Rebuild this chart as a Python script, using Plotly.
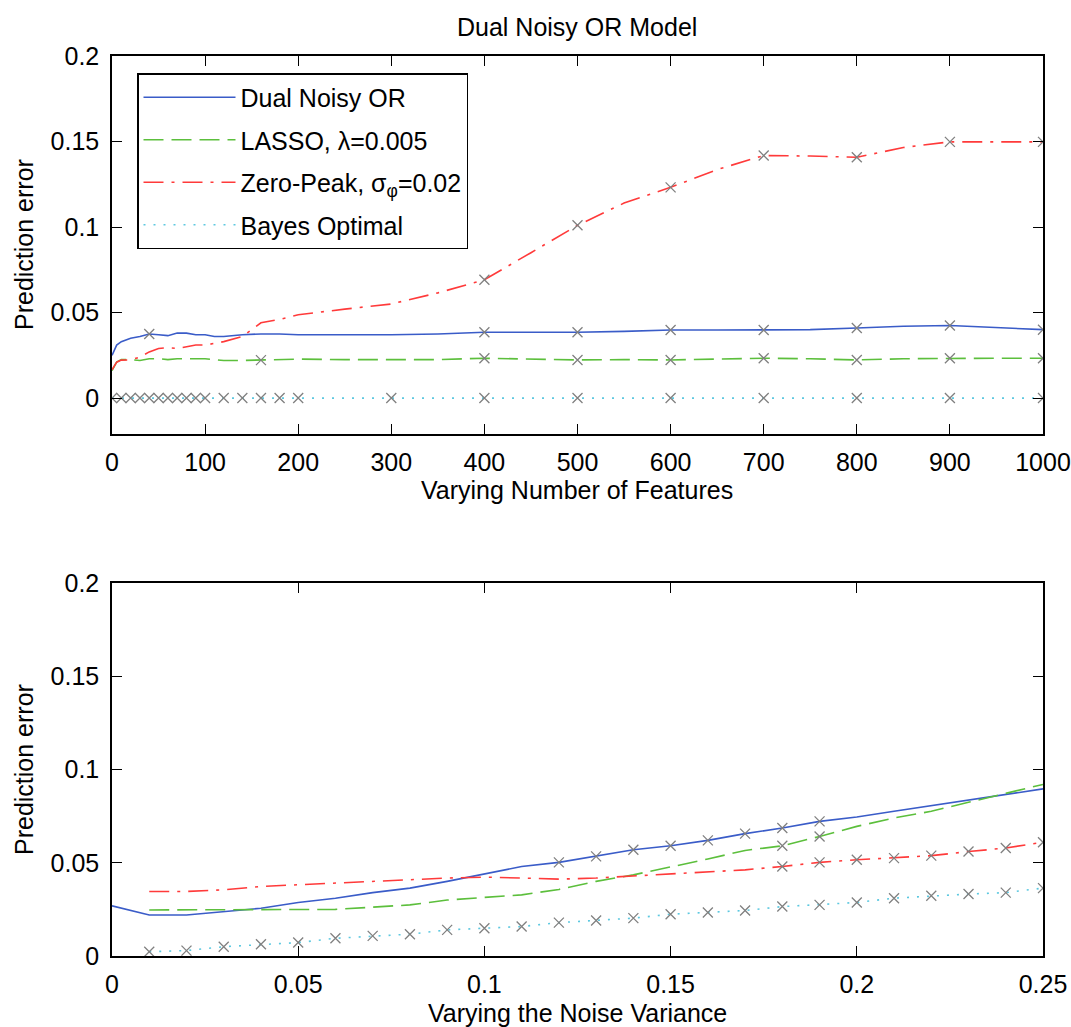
import plotly.graph_objects as go

# ---------------- data: top panel (varying number of features) ----------------
features = [0, 5, 10, 20, 30, 40, 50, 60, 70, 80, 90, 100, 110, 120, 140, 160, 180, 200,
            250, 300, 350, 400, 450, 500, 550, 600, 650, 700, 750, 800, 850, 900, 950, 1000]
dual_top = [0.025, 0.031, 0.033, 0.035, 0.036, 0.0375, 0.037, 0.0365, 0.038, 0.038, 0.037, 0.037,
            0.036, 0.036, 0.037, 0.0375, 0.0375, 0.037, 0.037, 0.037, 0.0375, 0.0385, 0.0385,
            0.0385, 0.039, 0.0398, 0.0398, 0.0398, 0.040, 0.041, 0.042, 0.0424, 0.041, 0.040]
lasso_top = [0.016, 0.021, 0.0225, 0.0225, 0.022, 0.023, 0.023, 0.0225, 0.023, 0.023, 0.023, 0.023,
             0.0225, 0.022, 0.022, 0.0222, 0.0225, 0.0228, 0.0225, 0.0225, 0.0225, 0.0233, 0.0228,
             0.0223, 0.0225, 0.0223, 0.0228, 0.0233, 0.023, 0.0223, 0.023, 0.0233, 0.0233, 0.0233]
zero_top = [0.0165, 0.021, 0.0222, 0.0223, 0.024, 0.027, 0.029, 0.0295, 0.029, 0.030, 0.031, 0.031,
            0.032, 0.033, 0.036, 0.044, 0.046, 0.0487, 0.052, 0.055, 0.0615, 0.0692, 0.085, 0.101,
            0.114, 0.1232, 0.1336, 0.1418, 0.1415, 0.1408, 0.1465, 0.1498, 0.1498, 0.1498]
bayes_top = [0.0] * len(features)

mk_dual_top = [40, 400, 500, 600, 700, 800, 900, 1000]
mk_lasso_top = [160, 400, 500, 600, 700, 800, 900, 1000]
mk_zero_top = [400, 500, 600, 700, 800, 900, 1000]
mk_bayes_top = [0, 10, 20, 30, 40, 50, 60, 70, 80, 90, 100, 120, 140, 160, 180, 200,
                300, 400, 500, 600, 700, 800, 900, 1000]

# ---------------- data: bottom panel (varying noise variance) ----------------
noise = [0.0, 0.01, 0.02, 0.03, 0.04, 0.05, 0.06, 0.07, 0.08, 0.09, 0.10, 0.11, 0.12,
         0.13, 0.14, 0.15, 0.16, 0.17, 0.18, 0.19, 0.20, 0.21, 0.22, 0.23, 0.24, 0.25]
dual_bot = [0.0269, 0.022, 0.022, 0.0237, 0.0256, 0.0287, 0.031, 0.034, 0.0364, 0.040, 0.044,
            0.048, 0.0502, 0.0534, 0.057, 0.0591, 0.062, 0.0656, 0.0686, 0.0722, 0.0745,
            0.0776, 0.0806, 0.0839, 0.0866, 0.0896]
lasso_bot = [None, 0.0247, 0.0247, 0.0247, 0.0247, 0.0247, 0.025, 0.0262, 0.0274, 0.030, 0.0315,
             0.0328, 0.0357, 0.040, 0.0435, 0.0477, 0.052, 0.0566, 0.0591, 0.0641, 0.0695,
             0.074, 0.0776, 0.0824, 0.0871, 0.092]
zero_bot = [None, 0.0346, 0.0346, 0.0355, 0.0373, 0.0382, 0.039, 0.040, 0.0409, 0.0418, 0.0423,
            0.0418, 0.0412, 0.0418, 0.043, 0.0439, 0.0453, 0.0462, 0.048, 0.0502, 0.0516,
            0.0525, 0.0538, 0.056, 0.0579, 0.061]
bayes_bot = [None, 0.0023, 0.0029, 0.005, 0.0063, 0.0072, 0.0095, 0.0108, 0.0117, 0.014, 0.0149,
             0.0158, 0.0179, 0.019, 0.0203, 0.0224, 0.0233, 0.0244, 0.0265, 0.0274, 0.0287,
             0.031, 0.0323, 0.0332, 0.034, 0.0364]

mk_dual_bot = [0.12, 0.13, 0.14, 0.15, 0.16, 0.17, 0.18, 0.19]
mk_lasso_bot = [0.18, 0.19]
mk_zero_bot = [0.18, 0.19, 0.20, 0.21, 0.22, 0.23, 0.24, 0.25]
mk_bayes_bot = noise[1:]

y_ticks = [0, 0.05, 0.1, 0.15, 0.2]
y_ticktext = ["0", "0.05", "0.1", "0.15", "0.2"]
x_top_ticks = [0, 100, 200, 300, 400, 500, 600, 700, 800, 900, 1000]
x_bot_ticks = [0, 0.05, 0.1, 0.15, 0.2, 0.25]
x_bot_ticktext = ["0", "0.05", "0.1", "0.15", "0.2", "0.25"]

names = ["Dual Noisy OR", "LASSO, λ=0.005", "Zero-Peak, σ<sub>φ</sub>=0.02", "Bayes Optimal"]

# ---------------- styles ----------------
colors = ["#3a5cc8", "#5cbf3c", "#ff3a3a", "#5cc8e0"]
dashes = ["solid", "20px,8px", "20px,8px,3px,8px", "2px,8px"]
FONT = "Liberation Sans, Arial, sans-serif"
FS = 25
MARK = dict(symbol="x-thin", size=10, line=dict(color="#808080", width=1.3), color="#808080")

fig = go.Figure()

top_series = [dual_top, lasso_top, zero_top, bayes_top]
top_marks = [mk_dual_top, mk_lasso_top, mk_zero_top, mk_bayes_top]
bot_series = [dual_bot, lasso_bot, zero_bot, bayes_bot]
bot_marks = [mk_dual_bot, mk_lasso_bot, mk_zero_bot, mk_bayes_bot]

for i in range(4):
    fig.add_trace(go.Scatter(x=features, y=top_series[i], mode="lines", name=names[i],
                             legendgroup=f"g{i}",
                             line=dict(color=colors[i], width=1.6, dash=dashes[i]),
                             xaxis="x", yaxis="y"))
for i in range(4):
    mx = top_marks[i]
    my = [top_series[i][features.index(v)] for v in mx]
    fig.add_trace(go.Scatter(x=mx, y=my, mode="markers", marker=MARK, showlegend=False,
                             xaxis="x", yaxis="y", hoverinfo="skip"))

for i in range(4):
    fig.add_trace(go.Scatter(x=noise, y=bot_series[i], mode="lines", name=names[i],
                             showlegend=False,
                             line=dict(color=colors[i], width=1.6, dash=dashes[i]),
                             xaxis="x2", yaxis="y2"))
for i in range(4):
    mx = bot_marks[i]
    my = [bot_series[i][noise.index(v)] for v in mx]
    fig.add_trace(go.Scatter(x=mx, y=my, mode="markers", marker=MARK, showlegend=False,
                             xaxis="x2", yaxis="y2", hoverinfo="skip"))

W, H = 1071, 1027
xdom = [112 / W, 1043 / W]
ydom_top = [1 - 434 / H, 1 - 56 / H]
ydom_bot = [1 - 956 / H, 1 - 583 / H]

axis_common = dict(showgrid=False, zeroline=False, showline=True, linecolor="black",
                   linewidth=1.5, mirror="ticks", ticks="inside", ticklen=10,
                   tickwidth=1.3, tickcolor="black", automargin=False,
                   ticklabeloverflow="allow",
                   tickfont=dict(family=FONT, size=FS, color="black"))

fig.update_layout(
    width=W, height=H,
    margin=dict(l=0, r=0, t=0, b=0, autoexpand=False),
    paper_bgcolor="white", plot_bgcolor="white",
    font=dict(family=FONT, size=FS, color="black"),
    xaxis=dict(domain=xdom, anchor="y", range=[0, 1000], tickvals=x_top_ticks,
               ticklabelstandoff=5, **axis_common),
    yaxis=dict(domain=ydom_top, anchor="x", range=[-0.021, 0.2], tickvals=y_ticks,
               ticktext=y_ticktext, ticklabelstandoff=6, **axis_common),
    xaxis2=dict(domain=xdom, anchor="y2", range=[0, 0.25], tickvals=x_bot_ticks,
                ticktext=x_bot_ticktext, ticklabelstandoff=5, **axis_common),
    yaxis2=dict(domain=ydom_bot, anchor="x2", range=[0, 0.2], tickvals=y_ticks,
                ticktext=y_ticktext, ticklabelstandoff=6, **axis_common),
    showlegend=True,
    legend=dict(x=137 / W, y=1 - 73 / H, xanchor="left", yanchor="top",
                bgcolor="white", bordercolor="black", borderwidth=1.5,
                font=dict(family=FONT, size=FS, color="black"),
                traceorder="grouped", tracegroupgap=7, itemwidth=92),
    annotations=[
        dict(text="Dual Noisy OR Model", x=577 / W, y=1 - 27 / H, xref="paper", yref="paper",
             showarrow=False, xanchor="center", yanchor="middle",
             font=dict(family=FONT, size=FS, color="black")),
        dict(text="Varying Number of Features", x=577 / W, y=1 - 490 / H, xref="paper",
             yref="paper", showarrow=False, xanchor="center", yanchor="middle",
             font=dict(family=FONT, size=FS, color="black")),
        dict(text="Varying the Noise Variance", x=577 / W, y=1 - 1013 / H, xref="paper",
             yref="paper", showarrow=False, xanchor="center", yanchor="middle",
             font=dict(family=FONT, size=FS, color="black")),
        dict(text="Prediction error", x=24 / W, y=1 - 245 / H, xref="paper", yref="paper",
             showarrow=False, xanchor="center", yanchor="middle", textangle=-90,
             font=dict(family=FONT, size=FS, color="black")),
        dict(text="Prediction error", x=24 / W, y=1 - 770 / H, xref="paper", yref="paper",
             showarrow=False, xanchor="center", yanchor="middle", textangle=-90,
             font=dict(family=FONT, size=FS, color="black")),
    ],
)

fig.write_html("out.html")
